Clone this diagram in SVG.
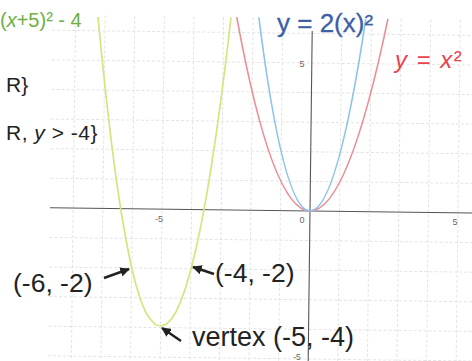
<svg xmlns="http://www.w3.org/2000/svg" width="472" height="361" viewBox="0 0 472 361">
<style>
.grid{stroke:#e3e3e3;stroke-width:1;stroke-dasharray:3 2;fill:none}
.axis{stroke:#555;stroke-width:1.1;fill:none}
.tick{font-family:"Liberation Sans",Arial,sans-serif;font-size:9px;fill:#666;text-anchor:middle}
.lbl{font-family:"Liberation Sans",Arial,sans-serif;fill:#222}
.arrow{stroke:#222;stroke-width:2.4;fill:none;marker-end:url(#ah)}
</style>
<defs>
<marker id="ah" viewBox="0 0 10 10" refX="9" refY="5" markerWidth="4" markerHeight="4" orient="auto" markerUnits="strokeWidth">
<path d="M0,0 L10,5 L0,10 Z" fill="#222"/>
</marker>
</defs>
<rect width="472" height="361" fill="#ffffff"/>
<g id="plot" transform="translate(310,211) rotate(0.7)">
<g id="grid" class="grid">
<path d="M-236.8,-193V150M-207.2,-193V150M-177.6,-193V150M-148,-193V150M-118.4,-193V150M-88.8,-193V150M-59.2,-193V150M-29.6,-193V150M29.6,-193V150M59.2,-193V150M88.8,-193V150M118.4,-193V150M148,-193V150"/>
<path d="M-260,-177.6H165M-260,-148H165M-260,-118.4H165M-260,-88.8H165M-260,-59.2H165M-260,-29.6H165M-260,29.6H165M-260,59.2H165M-260,88.8H165M-260,118.4H165M-260,148H165"/>
</g>
<g id="axes" class="axis">
<path d="M-260,0H165"/>
<path d="M0,-180V152"/>
</g>
<g id="curve-red">
<path d="M-75.6,-193 Q0,193 75.6,-193" fill="none" stroke="#ec8d96" stroke-width="1.6"/>
</g>
<g id="curve-blue">
<path d="M-53.5,-193 Q0,193 53.5,-193" fill="none" stroke="#8cc3e9" stroke-width="1.6"/>
</g>
</g>
<g id="ticks">
<text class="tick" x="159" y="222">-5</text>
<text class="tick" x="302" y="223">0</text>
<text class="tick" x="455" y="225">5</text>
<text class="tick" x="302" y="67">5</text>
<text class="tick" x="297" y="360" style="font-size:8.5px">-5</text>
</g>
<g id="curve-green">
<polyline fill="none" stroke="#d2e67e" stroke-width="1.7" stroke-linejoin="round" points="98,17 101,48 106,96 111,139 116,178 121,211 126,240 131,265 136,285 141,301 146,313 151,320 156,325 161,326 166,324.4 171,319.7 176,311.8 181,300.8 186,286.6 191,269.3 196,248.8 201,225.2 206,198.4 211,168.5 216,135.4 221,99.2 226,60 231,17.3"/>
</g>
<g id="labels">
<text id="label-green" class="lbl" x="0" y="27" font-size="20" style="fill:#6fb043">(<tspan font-style="italic">x</tspan>+5)² - 4</text>
<text id="label-domain" class="lbl" x="6" y="92" font-size="21">R}</text>
<text id="label-range" class="lbl" x="6" y="140" font-size="21" letter-spacing="0.5">R, <tspan font-style="italic">y</tspan> &gt; -4}</text>
<text id="label-blue" class="lbl" x="277" y="32" font-size="26" style="fill:#3d5fa6;stroke:#3d5fa6;stroke-width:0.3">y = 2(x)²</text>
<text id="label-red" class="lbl" x="395" y="68" font-size="24" letter-spacing="1.5" style="fill:#e8434f"><tspan font-style="italic">y</tspan> = <tspan font-style="italic">x</tspan>²</text>
<text id="label-p1" class="lbl" x="13" y="292" font-size="26.5">(-6, -2)</text>
<text id="label-p2" class="lbl" x="215" y="282" font-size="26.5">(-4, -2)</text>
<text id="label-vertex" class="lbl" x="192" y="346" font-size="27">vertex (-5, -4)</text>
</g>
<g id="connectors">
<path class="arrow" d="M104,278 L129,269"/>
<path class="arrow" d="M214,274 L193,267"/>
<path class="arrow" d="M181,341 L162,328"/>
</g>
</svg>
